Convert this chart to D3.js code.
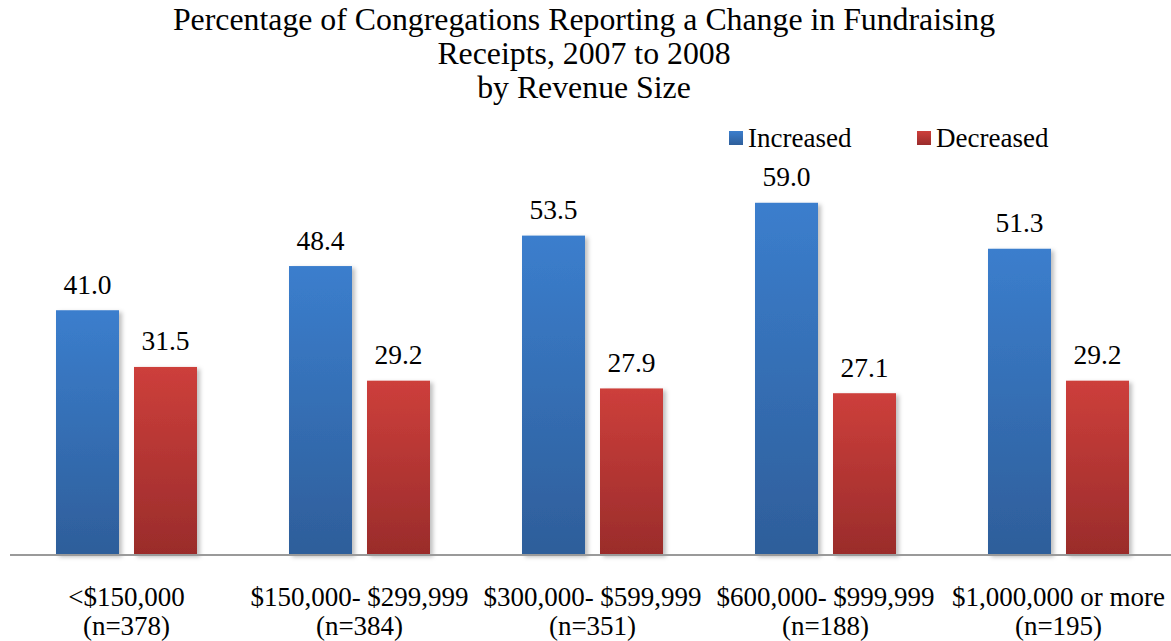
<!DOCTYPE html>
<html>
<head>
<meta charset="utf-8">
<script src="https://d3js.org/d3.v7.min.js"></script>
<style>
  body { margin: 0; background: #fff; }
</style>
</head>
<body>
<div id="container"></div>
<script>
  // chart data
  var categories = ["<$150,000", "$150,000- $299,999", "$300,000- $599,999", "$600,000- $999,999", "$1,000,000 or more"];
  var sampleSizes = ["(n=378)", "(n=384)", "(n=351)", "(n=188)", "(n=195)"];
  var seriesNames = ["Increased", "Decreased"];
  var increased = [41.0, 48.4, 53.5, 59.0, 51.3];
  var decreased = [31.5, 29.2, 27.9, 27.1, 29.2];
  var titleLines = ["Percentage of Congregations Reporting a Change in Fundraising", "Receipts, 2007 to 2008", "by Revenue Size"];

  // svg dimensions
  var width = 1171, height = 641;
  var baseline = 555;
  var font = "'Liberation Serif', 'Times New Roman', serif";

  var svg = d3.select("#container").append("svg")
    .attr("width", width)
    .attr("height", height)
    .style("font-family", font);

  var defs = svg.append("defs");
  var gradColors = [["#3b7ecd", "#2e5e9a"], ["#cd3f3b", "#9a2c2b"]];
  gradColors.forEach(function(c, i) {
    var g = defs.append("linearGradient")
      .attr("id", "grad" + i)
      .attr("x1", 0).attr("y1", 0).attr("x2", 0).attr("y2", 1);
    g.append("stop").attr("offset", "0%").attr("stop-color", c[0]);
    g.append("stop").attr("offset", "100%").attr("stop-color", c[1]);
  });
  var shadow = defs.append("filter").attr("id", "shadow")
    .attr("x", "-20%").attr("y", "-10%").attr("width", "150%").attr("height", "130%");
  shadow.append("feDropShadow")
    .attr("dx", 3).attr("dy", 2).attr("stdDeviation", 2)
    .attr("flood-color", "#000").attr("flood-opacity", 0.25);

  // scales
  var x0 = d3.scaleBand()
    .domain(categories)
    .range([10, 1175])
    .paddingInner(0)
    .paddingOuter(0);

  var x1 = d3.scaleBand()
    .domain(seriesNames)
    .range([46, x0.bandwidth() - 46])
    .paddingInner(15 / 78);

  var y = d3.scaleLinear()
    .domain([0, 70])
    .range([baseline, baseline - 70 * 5.97]);

  var rows = categories.map(function(c, i) {
    return { cat: c, n: sampleSizes[i], values: [increased[i], decreased[i]] };
  });

  // title
  svg.append("text")
    .attr("text-anchor", "middle")
    .style("font-size", "31.8px")
    .selectAll("tspan")
    .data(titleLines)
    .join("tspan")
    .attr("x", 584)
    .attr("y", function(d, i) { return 30 + i * 33.8; })
    .text(function(d) { return d; });

  // bars
  var groups = svg.selectAll("g.group")
    .data(rows)
    .join("g")
    .attr("class", "group")
    .attr("transform", function(d) { return "translate(" + x0(d.cat) + ",0)"; });

  groups.selectAll("rect")
    .data(function(d) { return d.values.map(function(v, i) { return { key: seriesNames[i], i: i, v: v }; }); })
    .join("rect")
    .attr("x", function(d) { return x1(d.key); })
    .attr("y", function(d) { return y(d.v); })
    .attr("width", x1.bandwidth())
    .attr("height", function(d) { return baseline - y(d.v); })
    .attr("fill", function(d) { return "url(#grad" + d.i + ")"; })
    .attr("filter", "url(#shadow)");

  groups.selectAll("text.val")
    .data(function(d) { return d.values.map(function(v, i) { return { key: seriesNames[i], v: v }; }); })
    .join("text")
    .attr("class", "val")
    .attr("x", function(d) { return x1(d.key) + x1.bandwidth() / 2; })
    .attr("y", function(d) { return y(d.v) - 16.5; })
    .attr("text-anchor", "middle")
    .style("font-size", "27.5px")
    .text(function(d) { return d.v.toFixed(1); });

  // axis line
  svg.append("line")
    .attr("x1", 10).attr("x2", width)
    .attr("y1", baseline).attr("y2", baseline)
    .attr("stroke", "#9a9a9a")
    .attr("stroke-width", 2);

  // category labels
  var labels = svg.selectAll("text.cat")
    .data(rows)
    .join("text")
    .attr("class", "cat")
    .attr("text-anchor", "middle")
    .style("font-size", "27px");
  labels.append("tspan")
    .attr("x", function(d) { return x0(d.cat) + x0.bandwidth() / 2; })
    .attr("y", 606)
    .text(function(d) { return d.cat; });
  labels.append("tspan")
    .attr("x", function(d) { return x0(d.cat) + x0.bandwidth() / 2; })
    .attr("y", 635)
    .text(function(d) { return d.n; });

  // legend
  var legendX = [729, 917];
  var legend = svg.selectAll("g.legend")
    .data(seriesNames)
    .join("g")
    .attr("class", "legend")
    .attr("transform", function(d, i) { return "translate(" + legendX[i] + ",131)"; });
  legend.append("rect")
    .attr("width", 14).attr("height", 14)
    .attr("fill", function(d, i) { return "url(#grad" + i + ")"; });
  legend.append("text")
    .attr("x", 19).attr("y", 16)
    .style("font-size", "27px")
    .text(function(d) { return d; });
</script>
</body>
</html>
